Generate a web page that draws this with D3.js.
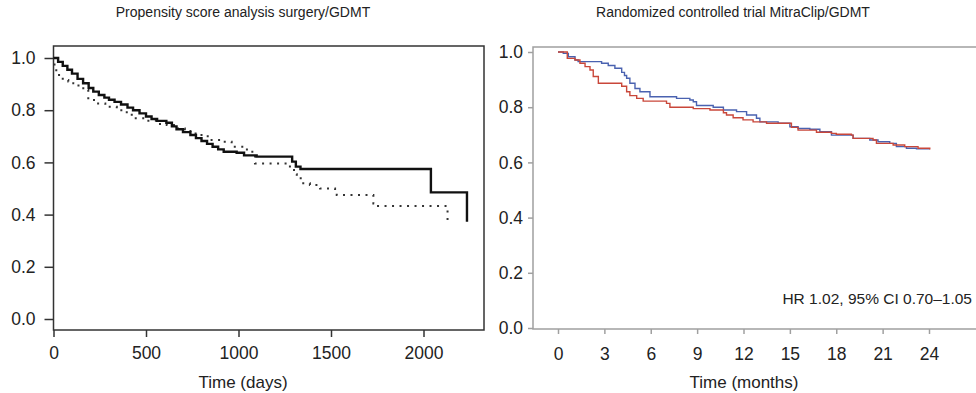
<!DOCTYPE html>
<html>
<head>
<meta charset="utf-8">
<script src="https://cdn.jsdelivr.net/npm/d3@7"></script>
<style>
  body { margin: 0; background: #fff; }
  svg { display: block; font-family: "Liberation Sans", Arial, sans-serif; }
</style>
</head>
<body>
<svg id="chart" width="976" height="393"></svg>
<script>
// ---------- Data ----------
const leftTitle = "Propensity score analysis surgery/GDMT";
const rightTitle = "Randomized controlled trial MitraClip/GDMT";
const leftXLabel = "Time (days)";
const rightXLabel = "Time (months)";
const hrText = "HR 1.02, 95% CI 0.70\u20131.05";

const leftXTicks = [0, 500, 1000, 1500, 2000];
const leftYTicks = [0.0, 0.2, 0.4, 0.6, 0.8, 1.0];
const rightXTicks = [0, 3, 6, 9, 12, 15, 18, 21, 24];
const rightYTicks = [0.0, 0.2, 0.4, 0.6, 0.8, 1.0];

// Surgery (solid) - days
const surgeryDays = [0,25,50,75,100,130,160,190,215,245,275,300,330,365,400,430,465,500,530,560,610,640,665,700,740,770,800,830,860,890,920,990,1030,1098,1290,1310,1335,2040,2235];
const surgerySurv = [1.0,0.985,0.97,0.955,0.94,0.92,0.903,0.885,0.871,0.858,0.848,0.84,0.832,0.822,0.81,0.80,0.788,0.776,0.766,0.759,0.752,0.738,0.727,0.716,0.705,0.693,0.682,0.671,0.66,0.65,0.641,0.637,0.627,0.622,0.603,0.584,0.575,0.485,0.373];

// GDMT (dotted) - days
const gdmtDays = [0,15,30,50,80,107,135,161,188,233,280,342,396,423,485,566,612,666,710,756,800,846,918,963,1026,1062,1089,1278,1300,1315,1350,1386,1441,1522,1531,1729,1747,2130];
const gdmtSurv = [0.975,0.948,0.93,0.916,0.91,0.903,0.89,0.877,0.839,0.826,0.813,0.80,0.788,0.769,0.760,0.747,0.743,0.730,0.72,0.711,0.70,0.686,0.679,0.660,0.649,0.641,0.596,0.571,0.555,0.539,0.52,0.513,0.50,0.488,0.475,0.443,0.433,0.369];

// MitraClip (blue) - months
const clipMonths = [0,0.34,0.67,1.1,1.3,2.82,3.25,3.68,4.12,4.3,4.44,4.65,4.98,5.3,5.95,7.67,8.53,8.75,8.96,10.04,10.7,11.55,12.2,12.84,13.06,14.24,15.0,15.53,16.29,16.94,17.69,19.09,20.17,20.7,21.46,21.89,22.54,23.19,24.05];
const clipSurv = [1.0,0.995,0.983,0.971,0.965,0.959,0.951,0.941,0.926,0.915,0.905,0.887,0.868,0.856,0.838,0.832,0.826,0.82,0.806,0.800,0.79,0.784,0.772,0.760,0.747,0.742,0.729,0.723,0.72,0.711,0.699,0.687,0.681,0.675,0.669,0.657,0.651,0.649,0.649];

// GDMT (red) - months
const medMonths = [0,0.6,1.1,1.42,1.75,2.07,2.28,2.61,4.12,4.44,4.65,5.09,5.51,7.02,7.24,8.75,9.83,10.7,10.9,11.33,11.97,12.62,13.49,15.1,15.53,16.72,17.69,18.0,18.98,19.09,20.38,20.6,21.68,22.43,23.29,24.05];
const medSurv = [1.0,0.977,0.971,0.959,0.947,0.935,0.911,0.887,0.876,0.856,0.842,0.832,0.822,0.814,0.80,0.795,0.79,0.78,0.772,0.762,0.754,0.747,0.742,0.727,0.717,0.709,0.705,0.702,0.699,0.687,0.681,0.669,0.663,0.657,0.651,0.647];

// ---------- Drawing ----------
const svg = d3.select("#chart");
const textColor = "#222";
const tickFont = "17.5px";
const labelFont = "17px";
const titleFont = "14px";
const zip = (xs, ys) => xs.map((x, i) => [x, ys[i]]);

// ===== Left panel =====
const L = { x0: 53.5, x1: 484, y0: 46, y1: 330 };
const lx = d3.scaleLinear().domain([0, 500]).range([53.5, 146]);
const ly = d3.scaleLinear().domain([0, 1]).range([319, 58]);
const lg = svg.append("g");

lg.append("rect")
  .attr("x", L.x0).attr("y", L.y0)
  .attr("width", L.x1 - L.x0).attr("height", L.y1 - L.y0)
  .attr("fill", "none").attr("stroke", "#333").attr("stroke-width", 1.5);

const lyAxis = lg.append("g").attr("transform", `translate(${L.x0},0)`)
  .call(d3.axisLeft(ly).tickValues(leftYTicks).tickFormat(d3.format(".1f")).tickSize(9).tickPadding(9));
const lxAxis = lg.append("g").attr("transform", `translate(0,${L.y1})`)
  .call(d3.axisBottom(lx).tickValues(leftXTicks).tickFormat(d3.format("d")).tickSize(7).tickPadding(10));
[lyAxis, lxAxis].forEach(a => {
  a.select(".domain").remove();
  a.selectAll(".tick line").attr("stroke", "#333").attr("stroke-width", 1.5);
  a.selectAll(".tick text").attr("fill", textColor).style("font-size", tickFont);
});

const lline = d3.line().x(d => lx(d[0])).y(d => ly(d[1])).curve(d3.curveStepAfter);
lg.append("path").datum(zip(gdmtDays, gdmtSurv))
  .attr("d", lline).attr("fill", "none").attr("stroke", "#333")
  .attr("stroke-width", 2).attr("stroke-dasharray", "2,5.5");
lg.append("path").datum(zip(surgeryDays, surgerySurv))
  .attr("d", lline).attr("fill", "none").attr("stroke", "#111")
  .attr("stroke-width", 2.4);

lg.append("text").attr("x", 243).attr("y", 17).attr("text-anchor", "middle")
  .attr("fill", textColor).style("font-size", titleFont).text(leftTitle);
lg.append("text").attr("x", 243).attr("y", 388).attr("text-anchor", "middle")
  .attr("fill", textColor).style("font-size", labelFont).text(leftXLabel);

// ===== Right panel =====
const R = { x0: 533, x1: 978, y0: 47, y1: 329 };
const rx = d3.scaleLinear().domain([0, 24]).range([558, 929]);
const ry = d3.scaleLinear().domain([0, 1]).range([328, 52]);
const rg = svg.append("g");
const axisGray = "#a0a0a0";

rg.append("path")
  .attr("d", `M${R.x1},${R.y0}H${R.x0}V${R.y1}H${R.x1}`)
  .attr("fill", "none").attr("stroke", axisGray).attr("stroke-width", 1.5);

const ryAxis = rg.append("g").attr("transform", `translate(${R.x0},0)`)
  .call(d3.axisLeft(ry).tickValues(rightYTicks).tickFormat(d3.format(".1f")).tickSize(5).tickPadding(5));
const rxAxis = rg.append("g").attr("transform", `translate(0,${R.y1})`)
  .call(d3.axisBottom(rx).tickValues(rightXTicks).tickFormat(d3.format("d")).tickSize(5).tickPadding(14));
[ryAxis, rxAxis].forEach(a => {
  a.select(".domain").remove();
  a.selectAll(".tick line").attr("stroke", axisGray).attr("stroke-width", 1.5);
  a.selectAll(".tick text").attr("fill", textColor).style("font-size", tickFont);
});

const rline = d3.line().x(d => rx(d[0])).y(d => ry(d[1])).curve(d3.curveStepAfter);
rg.append("path").datum(zip(clipMonths, clipSurv))
  .attr("d", rline).attr("fill", "none").attr("stroke", "#4a62b0")
  .attr("stroke-width", 1.4);
rg.append("path").datum(zip(medMonths, medSurv))
  .attr("d", rline).attr("fill", "none").attr("stroke", "#c9473a")
  .attr("stroke-width", 1.4);

rg.append("text").attr("x", 733).attr("y", 17).attr("text-anchor", "middle")
  .attr("fill", textColor).style("font-size", titleFont).text(rightTitle);
rg.append("text").attr("x", 744).attr("y", 388).attr("text-anchor", "middle")
  .attr("fill", textColor).style("font-size", labelFont).text(rightXLabel);
rg.append("text").attr("x", 972).attr("y", 304).attr("text-anchor", "end")
  .attr("fill", textColor).style("font-size", "15.5px").text(hrText);
</script>
</body>
</html>
